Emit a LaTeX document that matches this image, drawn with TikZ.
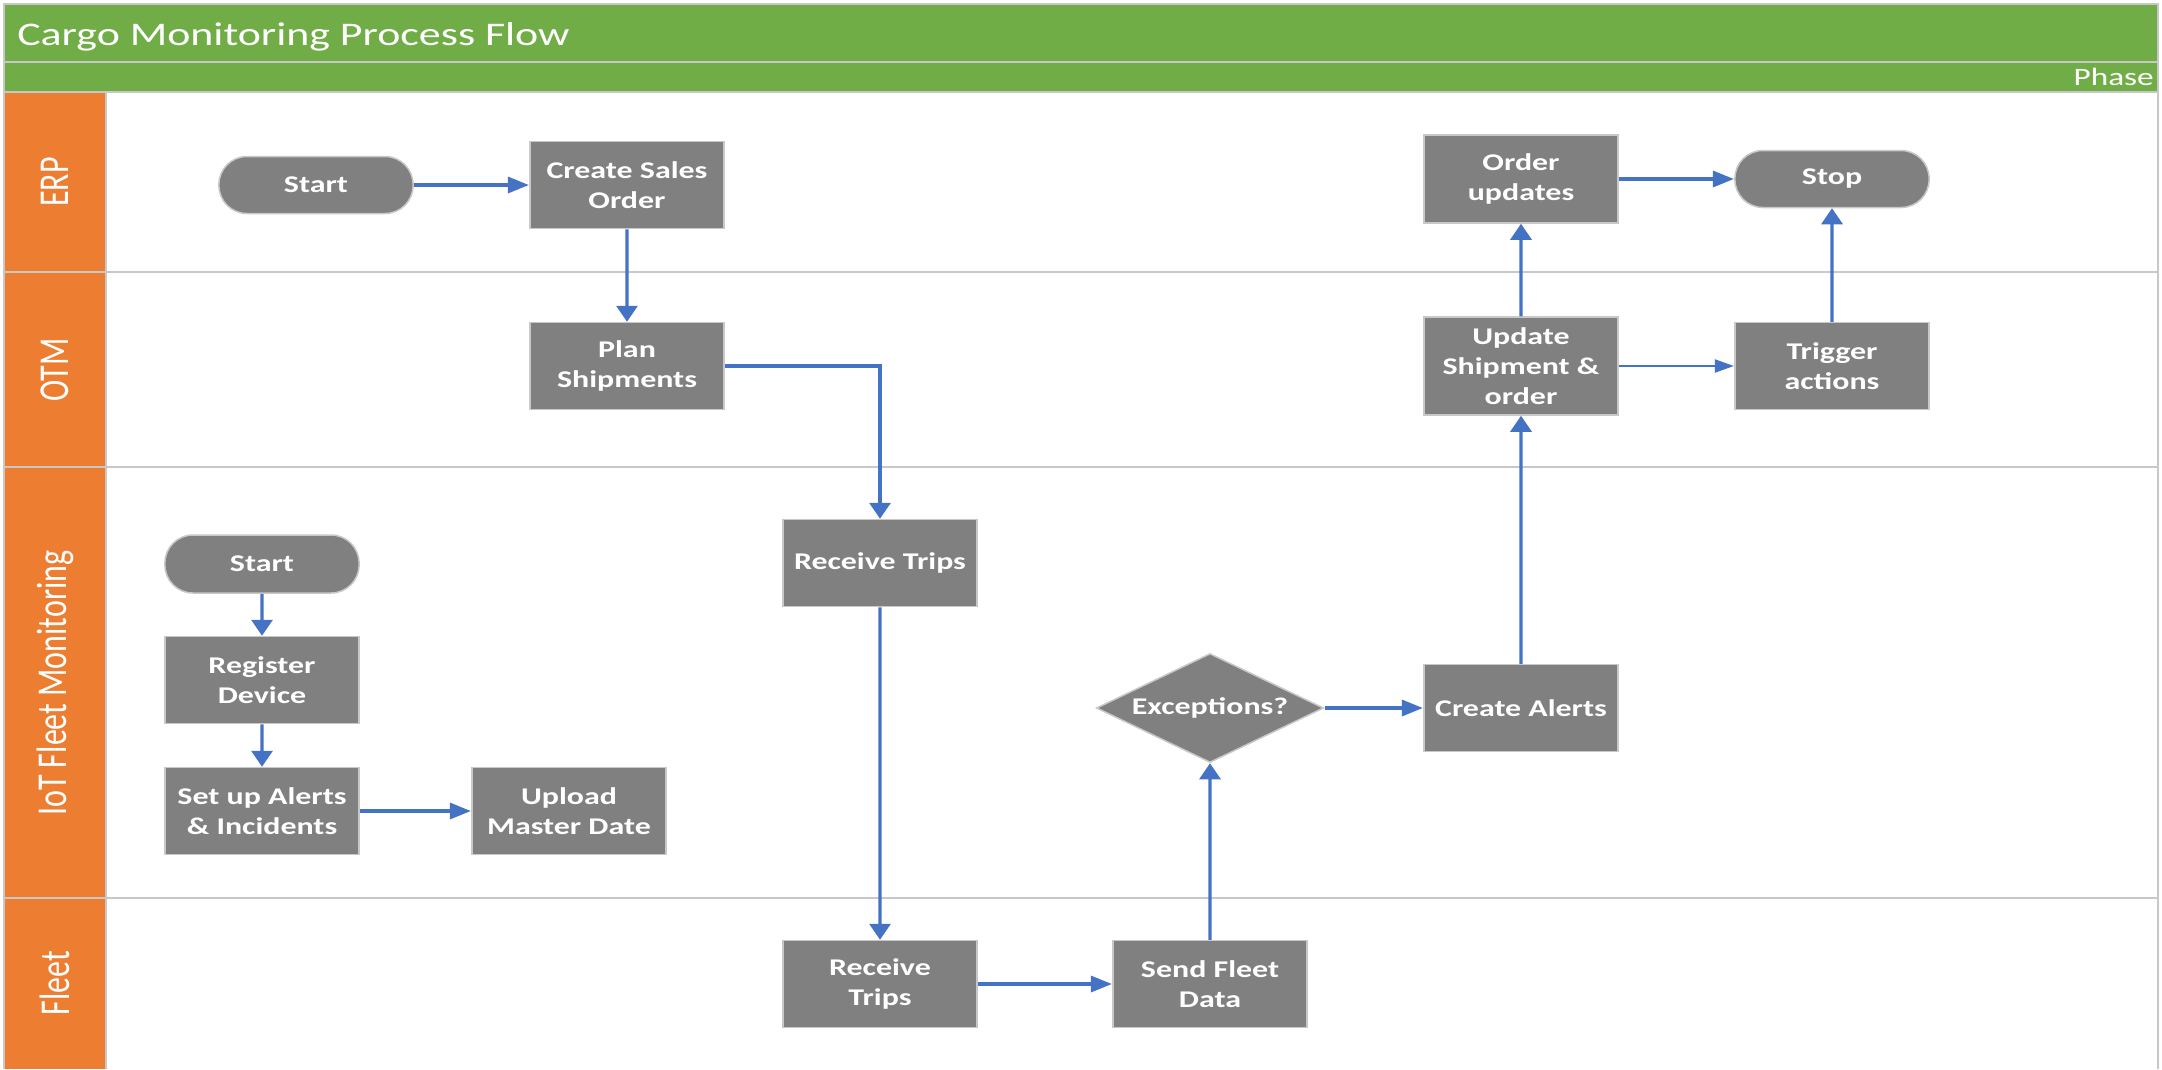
\documentclass[tikz,border=0pt]{standalone}
\usepackage{fontspec}
\setmainfont{Carlito}
\usetikzlibrary{arrows.meta,positioning,calc,shapes.geometric}
\definecolor{headgreen}{HTML}{70AD47}
\definecolor{laneorange}{HTML}{ED7D31}
\definecolor{boxgray}{HTML}{808080}
\definecolor{flowblue}{HTML}{4472C4}
\definecolor{rulegray}{HTML}{C8C8C8}

\begin{document}
\begin{tikzpicture}[x=1pt,y=-1pt,
		box/.style={draw=rulegray, line width=1.5pt, fill=boxgray, text=white, align=center,
			font=\fontsize{24}{30}\selectfont\bfseries, xscale=1.33,
			minimum width=146pt, minimum height=87pt, inner sep=0pt},
		term/.style={box, rounded corners=28pt, minimum height=57pt},
		decide/.style={box, diamond, aspect=1.57, minimum width=171pt, minimum height=109pt},
		flow/.style={draw=flowblue, line width=3.2pt, -{Triangle[length=16pt,width=21pt]}},
		hflow/.style={flow, -{Triangle[length=21pt,width=16pt]}},
		lanetext/.style={text=white, font=\fontsize{32}{38}\selectfont, xscale=1.33, rotate=90},
		headtext/.style={text=white, inner sep=0pt, xscale=1.33}]
			\useasboundingbox (0,0) rectangle (2162,1069);
			
			\fill[headgreen] (4,4) rectangle (2158,92);
			\fill[laneorange] (4,92) rectangle (106,1069);
			\draw[rulegray, line width=2pt] (4,62) -- (2158,62);
			\foreach \y in {92,272,467,898}
				\draw[rulegray, line width=2pt] (4,\y) -- (2158,\y);
			\draw[rulegray, line width=2pt] (106,92) -- (106,1069);
			\draw[rulegray, line width=2.5pt] (4,1069) -- (4,4) -- (2158,4) -- (2158,1069);
			
			\node[headtext, anchor=base west, font=\fontsize{33}{40}\selectfont] (title) at (17,45) {Cargo Monitoring Process Flow};
			\node[headtext, anchor=base east, font=\fontsize{25}{30}\selectfont] (phase) at (2154,85) {Phase};
			
			\foreach \name/\y/\txt in {erp/182/ERP, otm/370/OTM, iot/683/IoT Fleet Monitoring, fleet/983/Fleet}
				\node[lanetext] (\name) at (55,\y) {\txt};
			
			\node[term] (startA) at (316,185) {Start};
			\node[box] (sales) at (627,185) {Create Sales\\Order};
			\node[box] (plan) at (627,366) {Plan\\Shipments};
			\node[box, minimum height=88pt] (orders) at (1521,179) {Order\\updates};
			\node[term] (stop) at (1832,179) {Stop};
			\node[box, minimum height=98pt] (update) at (1521,366) {Update\\Shipment \&\\order};
			\node[box] (trigger) at (1832,366) {Trigger\\actions};
			
			\node[term, minimum height=58pt] (startB) at (262,564) {Start};
			\node[box] (register) at (262,680) {Register\\Device};
			\node[box] (setup) at (262,811) {Set up Alerts\\\& Incidents};
			\node[box] (upload) at (569,811) {Upload\\Master Date};
			\node[box] (tripsA) at (880,563) {Receive Trips};
			\node[decide] (check) at (1210,708) {Exceptions?};
			\node[box] (alerts) at (1521,708) {Create Alerts};
			
			\node[box] (tripsB) at (880,984) {Receive\\Trips};
			\node[box] (send) at (1210,984) {Send Fleet\\Data};
			
			\draw[hflow] (startA) -- (sales);
			\draw[flow] (sales) -- (plan);
			\draw[flow] (plan.east) -| (tripsA.north);
			\draw[flow] (tripsA) -- (tripsB);
			\draw[hflow] (tripsB) -- (send);
			\draw[flow] (send) -- (check);
			\draw[hflow] (check) -- (alerts);
			\draw[flow] (alerts) -- (update);
			\draw[flow] (update) -- (orders);
			\draw[hflow] (orders) -- (stop);
			\draw[hflow, line width=2pt, -{Triangle[length=19pt,width=13pt]}] (update) -- (trigger);
			\draw[flow] (trigger) -- (stop);
			\draw[flow] (startB) -- (register);
			\draw[flow] (register) -- (setup);
			\draw[hflow] (setup) -- (upload);
		\end{tikzpicture}
\end{document}
